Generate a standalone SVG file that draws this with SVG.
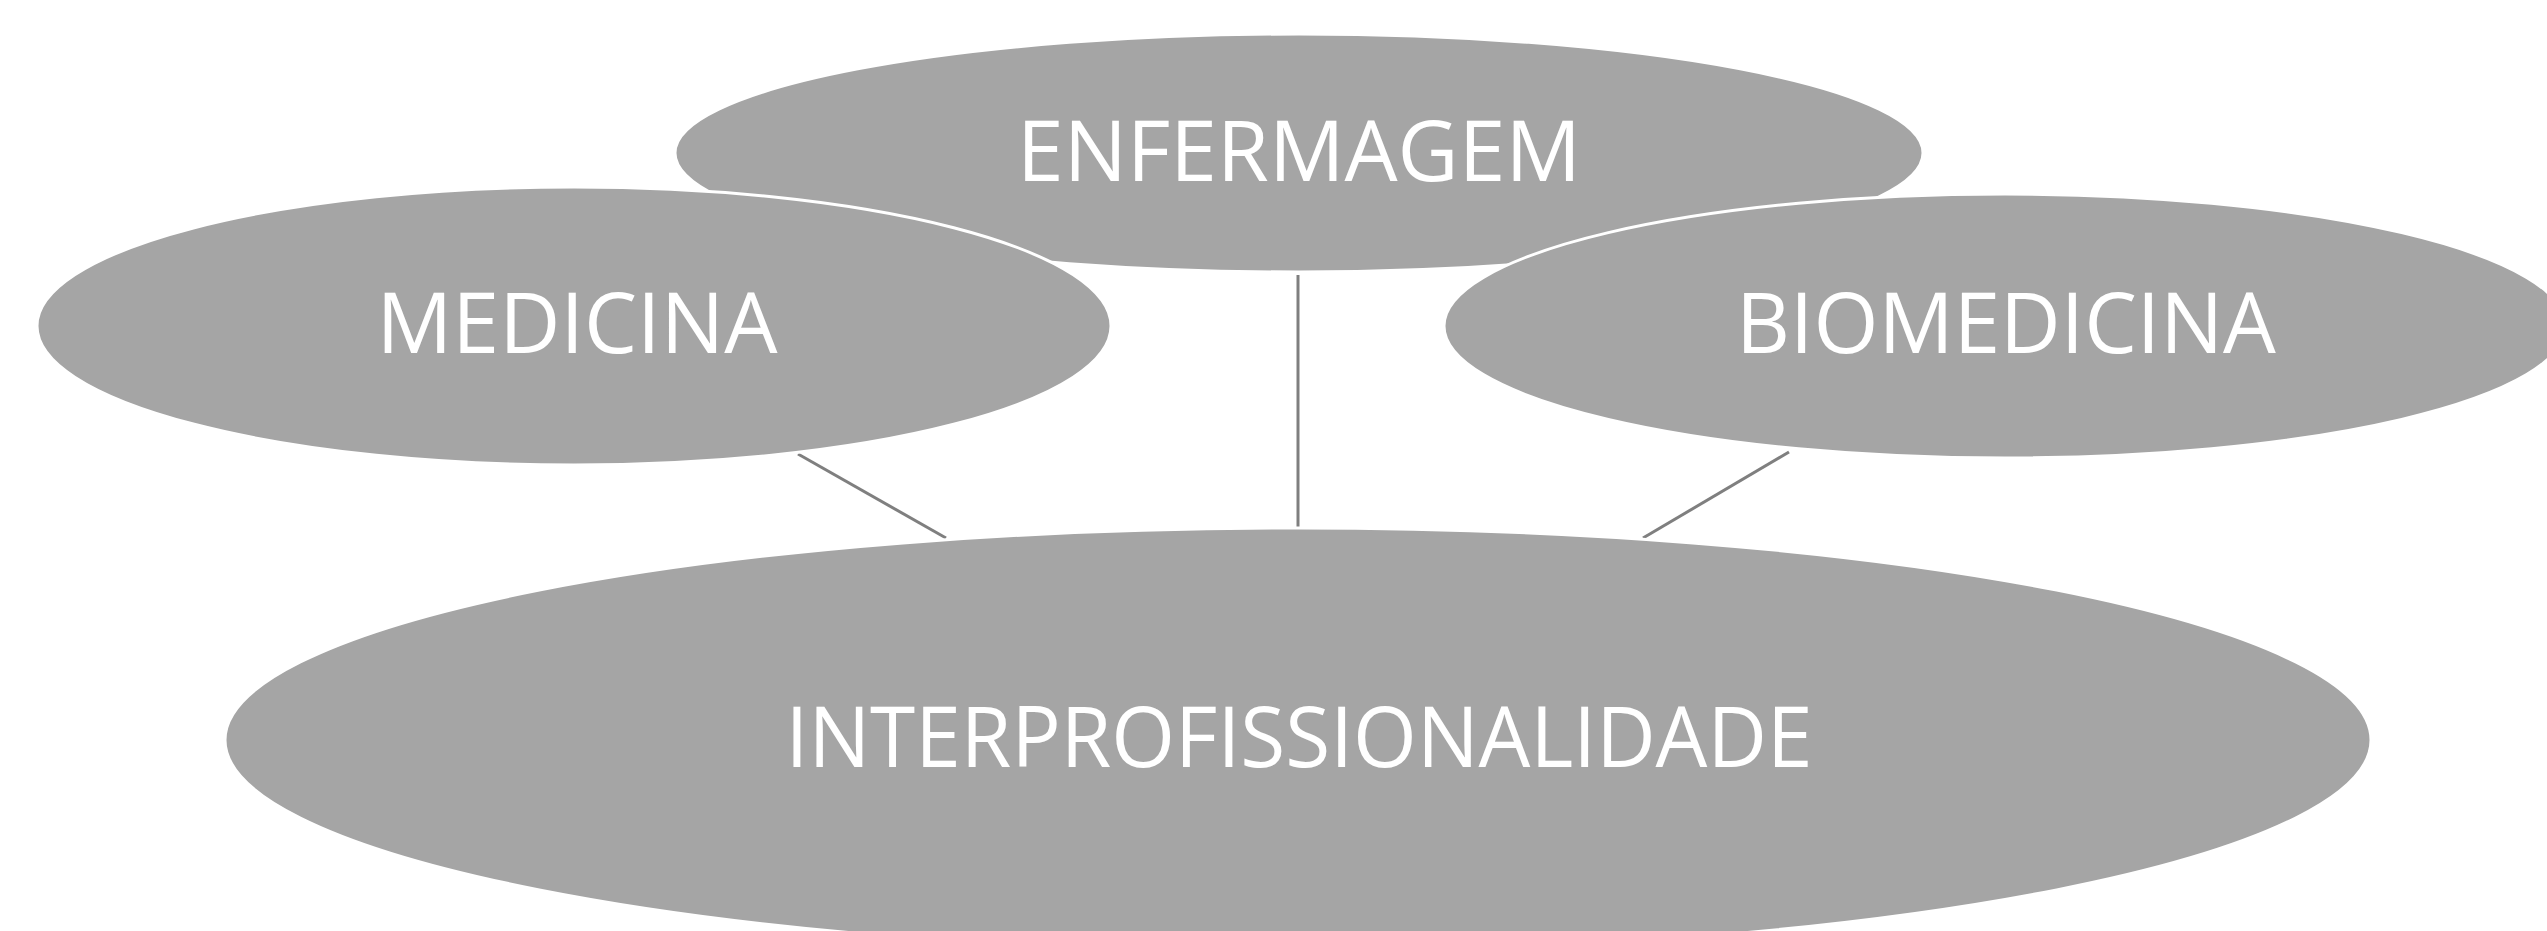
<svg xmlns="http://www.w3.org/2000/svg" width="2547" height="931" viewBox="0 0 2547 931">
<style>
.node{fill:#a5a5a5;stroke:#ffffff;stroke-width:3}
.lbl{fill:#ffffff;font-family:"Open Sans","Noto Sans","Liberation Sans",sans-serif;font-size:85px;text-anchor:middle}
.conn{stroke:#7f7f7f;stroke-width:3;fill:none}
</style>
<rect width="2547" height="931" fill="#ffffff"/>
<g id="connectors">
<line class="conn" x1="798" y1="454" x2="946" y2="538"/>
<line class="conn" x1="1298" y1="275" x2="1298" y2="527"/>
<line class="conn" x1="1789" y1="452" x2="1643" y2="538"/>
</g>
<g id="enfermagem">
<ellipse class="node" cx="1299" cy="153" rx="624" ry="119"/>
<text class="lbl" x="1299" y="181" textLength="564" lengthAdjust="spacingAndGlyphs">ENFERMAGEM</text>
</g>
<g id="medicina">
<ellipse class="node" cx="574" cy="326" rx="537" ry="139"/>
<text class="lbl" x="577" y="353" textLength="401" lengthAdjust="spacingAndGlyphs">MEDICINA</text>
</g>
<g id="biomedicina">
<ellipse class="node" cx="2005" cy="326" rx="561" ry="132"/>
<text class="lbl" x="2006" y="353" textLength="540" lengthAdjust="spacingAndGlyphs">BIOMEDICINA</text>
</g>
<g id="interprofissionalidade">
<ellipse class="node" cx="1298" cy="740" rx="1073" ry="212"/>
<text class="lbl" x="1299" y="767" textLength="1027" lengthAdjust="spacingAndGlyphs">INTERPROFISSIONALIDADE</text>
</g>
</svg>
